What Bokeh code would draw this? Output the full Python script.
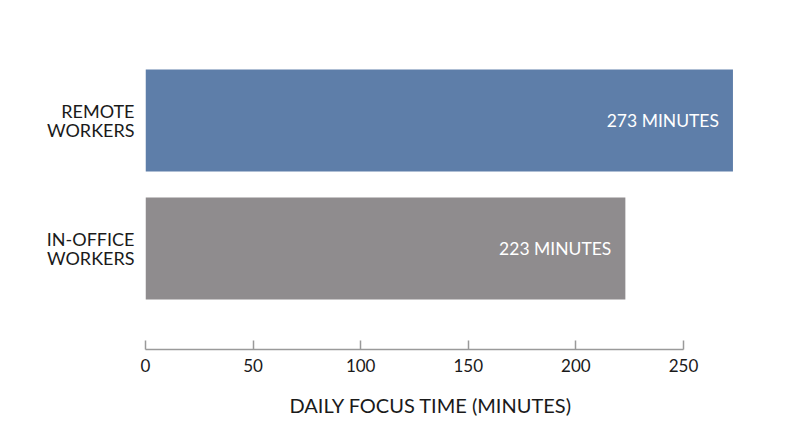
from bokeh.plotting import figure
from bokeh.models import ColumnDataSource, Range1d, FactorRange, FixedTicker, Title
from bokeh.core.properties import value
from bokeh.embed import file_html
from bokeh.resources import INLINE

categories = ["IN-OFFICE\nWORKERS", "REMOTE\nWORKERS"]
minutes = [223, 273]
bar_colors = ["#8f8c8e", "#5e7ea9"]
value_labels = [f"{m} MINUTES" for m in minutes]
x_ticks = [0, 50, 100, 150, 200, 250]
x_title = "DAILY FOCUS TIME (MINUTES)"

FONT = "Lato"

src = ColumnDataSource(dict(cat=categories, val=minutes, color=bar_colors, lab=value_labels))

p = figure(width=784, height=436, output_backend="svg", toolbar_location=None,
           y_range=FactorRange(factors=categories, range_padding=0.289, range_padding_units="absolute"),
           x_range=Range1d(0, 285.8))
p.min_border_left = 145
p.min_border_right = 24
p.min_border_top = 19
p.min_border_bottom = 87
p.outline_line_color = None
p.background_fill_color = "white"
p.border_fill_color = "white"
p.grid.visible = False

p.hbar(y="cat", right="val", left=0, height=0.795, color="color", line_color=None, source=src)

p.text(x="val", y="cat", text="lab", source=src, text_align="right", text_baseline="middle",
       x_offset=-14, text_color="white", text_font=value(FONT), text_font_size="17.5px")

xa = p.xaxis[0]
xa.ticker = FixedTicker(ticks=x_ticks)
xa.bounds = (0, 250)
xa.axis_line_color = "#9a9a9a"
xa.axis_line_width = 1.5
xa.major_tick_line_color = "#9a9a9a"
xa.major_tick_line_width = 1.5
xa.major_tick_in = 9
xa.major_tick_out = 0
xa.minor_tick_line_color = None
xa.major_label_standoff = 9
xa.major_label_text_font = FONT
xa.major_label_text_font_size = "17px"
xa.major_label_text_color = "#1a1a1a"

t = Title(text=x_title, align="left", offset=144, standoff=32,
          text_font=FONT, text_font_size="20px", text_font_style="normal", text_color="#1a1a1a")
p.add_layout(t, "below")

ya = p.yaxis[0]
ya.axis_line_color = None
ya.major_tick_line_color = None
ya.minor_tick_line_color = None
ya.major_label_standoff = 5
ya.major_label_text_font = FONT
ya.major_label_text_font_size = "18px"
ya.major_label_text_color = "#1a1a1a"
ya.major_label_text_line_height = 0.9

open("out.html", "w").write(file_html(p, INLINE))
